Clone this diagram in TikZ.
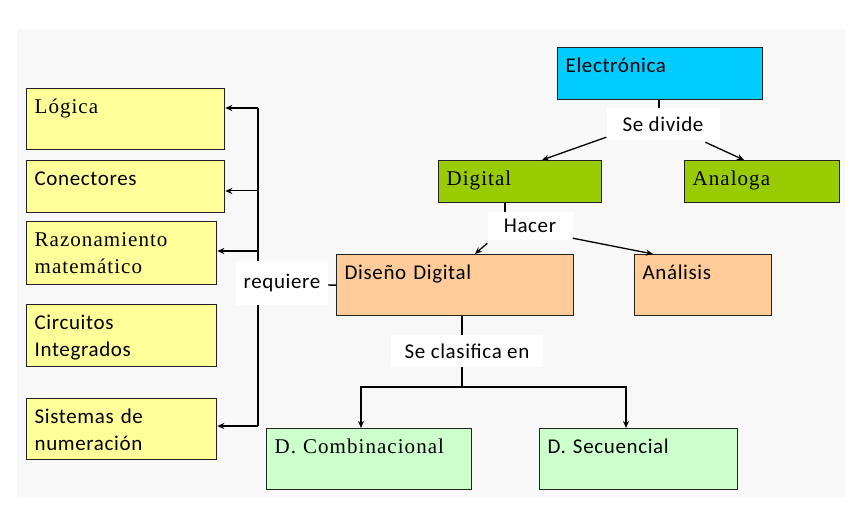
\documentclass[tikz,border=0pt]{standalone}
\usepackage{fontspec}
\setmainfont{Carlito}[LetterSpace=3]
\newfontfamily\serifx{Liberation Serif}[LetterSpace=5]
\usetikzlibrary{arrows.meta,calc}
\definecolor{bgc}{HTML}{F8F8F8}
\definecolor{cyanb}{HTML}{00CCFF}
\definecolor{greenb}{HTML}{99CC00}
\definecolor{yellowb}{HTML}{FFFF99}
\definecolor{peachb}{HTML}{FFCC99}
\definecolor{mintb}{HTML}{CCFFCC}
\definecolor{edge}{HTML}{222222}
\tikzset{
  tbox/.style={draw=edge, line width=1.3pt, anchor=north west, inner xsep=8pt, inner ysep=0pt,
    align=left, text height=25pt, font=\fontsize{21}{27}\selectfont},
  sbox/.style={tbox, font=\serifx\fontsize{21}{27}\selectfont},
  lbl/.style={fill=white, inner sep=0pt, font=\fontsize{21}{27}\selectfont},
  conn/.style={draw=black, line width=1.3pt},
  arr/.style={conn, -{Stealth[length=7pt,width=6pt]}},
  thk/.style={line width=2.4pt}
}
\begin{document}
\begin{tikzpicture}[x=1pt,y=-1pt]
\useasboundingbox (0,0) rectangle (854,521);
\fill[bgc] (17,29) rectangle (845,497);

% left column
\node[sbox, fill=yellowb, text width=182pt, text depth=36pt] (logica) at (26,88) {Lógica};
\node[tbox, fill=yellowb, text width=182pt, text depth=27pt] (conect) at (26,160) {Conectores};
\node[sbox, fill=yellowb, text width=174pt, text depth=38pt] (razon) at (26,221) {Razonamiento\\matemático};
\node[tbox, fill=yellowb, text width=174pt, text depth=37pt] (circ) at (26,304) {Circuitos\\Integrados};
\node[tbox, fill=yellowb, text width=174pt, text depth=36pt] (sist) at (26,398) {Sistemas de\\numeración};

% right part
\node[tbox, fill=cyanb, text width=189pt, text depth=27pt] (electro) at (557,47) {Electrónica};
\node[sbox, fill=greenb, text width=147pt, text depth=17pt] (digital) at (438,160) {Digital};
\node[sbox, fill=greenb, text width=139pt, text depth=17pt] (analoga) at (684,160) {Analoga};
\node[tbox, fill=peachb, text width=221pt, text depth=36pt] (diseno) at (336,254) {Diseño Digital};
\node[tbox, fill=peachb, text width=121pt, text depth=36pt] (analisis) at (634,254) {Análisis};
\node[sbox, fill=mintb, text width=189pt, text depth=36pt] (dcomb) at (266,428) {D. Combinacional};
\node[tbox, fill=mintb, text width=182pt, text depth=36pt] (dsec) at (539,428) {D. Secuencial};

% Electronica -> Digital / Analoga
\node[lbl, minimum width=113pt, minimum height=32pt] (sedivide) at (663,124) {Se divide};
\coordinate (e1) at ($(electro.south west)+(102,0)$);
\draw[conn] (e1) -- (e1 |- sedivide.north);
\draw[arr] ($(sedivide.south west)+(0,-3)$) -- ($(digital.north west)+(104,0)$);
\draw[arr] ($(sedivide.south west)+(99,2)$) -- ($(analoga.north west)+(60,0)$);

% Digital -> Diseno / Analisis
\node[lbl, minimum width=85pt, minimum height=28pt] (hacer) at (530,226) {Hacer};
\coordinate (d1) at ($(digital.south west)+(67,0)$);
\draw[conn] (d1) -- (d1 |- hacer.north);
\draw[arr] ($(hacer.south west)+(0,3)$) -- ($(diseno.north west)+(139,0)$);
\draw[arr] ($(hacer.south east)+(0,-2)$) -- ($(analisis.north west)+(19,0)$);

% Diseno -> D. Comb / D. Sec
\node[lbl, minimum width=152pt, minimum height=32pt] (seclas) at (467,351) {Se clasifica en};
\coordinate (split) at (462,387);
\draw[conn] (split |- diseno.south) -- (split |- seclas.north);
\draw[conn] (split |- seclas.south) -- (split);
\draw[arr] (split) -| ($(dcomb.north west)+(95,0)$);
\draw[arr] (split) -| ($(dsec.north west)+(87,0)$);

% requiere bus
\coordinate (b1) at (258,108);
\coordinate (b2) at (258,191);
\coordinate (b3) at (258,251);
\coordinate (b4) at (258,426);
\coordinate (bm) at (258,284.5);
\draw[conn, line width=1.6pt] (b1) -- (b4);
\draw[arr, thk] (b1) -- (logica.east |- b1);
\draw[arr, line width=1pt] (b2) -- (conect.east |- b2);
\draw[arr, thk] (b3) -- (razon.east |- b3);
\draw[arr, thk] (b4) -- (sist.east |- b4);
\draw[conn] (diseno.west) -- (bm);
\node[lbl, minimum width=92pt, minimum height=44pt] (requiere) at (282,283) {requiere};
\end{tikzpicture}
\end{document}
